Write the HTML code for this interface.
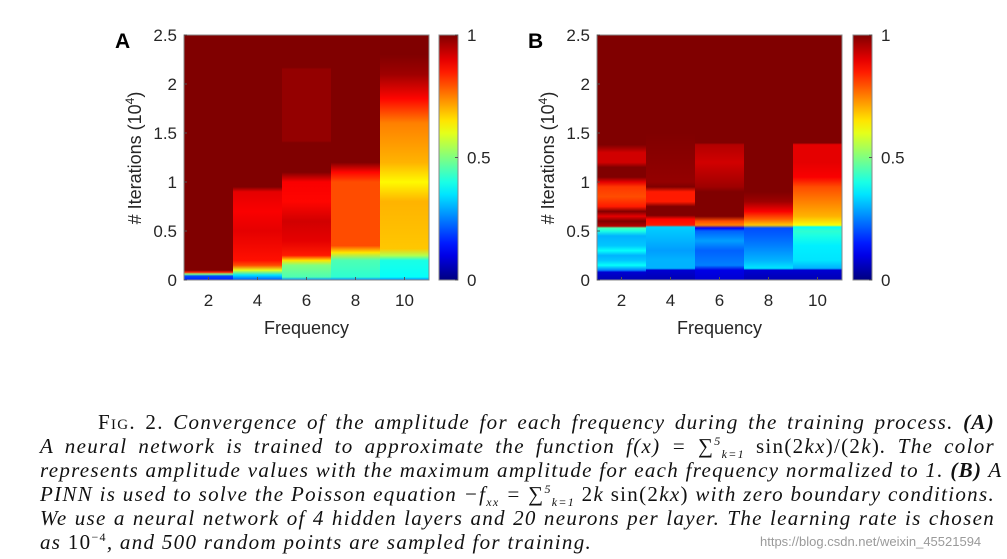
<!DOCTYPE html>
<html><head><meta charset="utf-8">
<style>
body{margin:0;width:1007px;height:559px;background:#fff;overflow:hidden;position:relative}
svg{position:absolute;left:0;top:0}
.cap{position:absolute;left:40px;width:955px;height:24px;font-family:"Liberation Serif",serif;font-style:italic;font-size:21px;letter-spacing:1.3px;line-height:24px;text-align:justify;text-align-last:justify;white-space:nowrap;color:#111;box-sizing:border-box}
.cap.last{text-align-last:left}
.sc{font-style:normal;font-variant:small-caps}
.rm{font-style:normal}
.up{position:relative;top:-8px;font-size:12px;line-height:0;vertical-align:baseline}
.dn{position:relative;top:5px;font-size:12px;line-height:0;vertical-align:baseline}
.wm{position:absolute;left:760px;top:534px;font-family:"Liberation Sans",sans-serif;font-size:13px;color:#9a9a9a}
</style></head>
<body>
<svg id="fig" width="1007" height="400"></svg>
<div class="cap" style="top:410px;padding-left:58px"><span class="sc">Fig. 2.</span> Convergence of the amplitude for each frequency during the training process. <b>(A)</b></div>
<div class="cap" style="top:434px">A neural network is trained to approximate the function f(x) = <span class="rm">∑</span><span class="up">5</span><span class="dn">k=1</span> <span class="rm">sin(2</span>kx<span class="rm">)/(2</span>k<span class="rm">)</span>. The color</div>
<div class="cap" style="top:458px">represents amplitude values with the maximum amplitude for each frequency normalized to 1. <b>(B)</b> A</div>
<div class="cap" style="top:482px">PINN is used to solve the Poisson equation −f<span class="dn">xx</span> = <span class="rm">∑</span><span class="up">5</span><span class="dn">k=1</span> <span class="rm">2</span>k <span class="rm">sin(2</span>kx<span class="rm">)</span> with zero boundary conditions.</div>
<div class="cap" style="top:506px">We use a neural network of 4 hidden layers and 20 neurons per layer. The learning rate is chosen</div>
<div class="cap last" style="top:530px">as <span class="rm">10<span class="up">−4</span></span>, and 500 random points are sampled for training.</div>
<div class="wm">https://blog.csdn.net/weixin_45521594</div>
<script>
const frequencies=[2,4,6,8,10];
const yTicks=[0,0.5,1,1.5,2,2.5];
const yTickLabels=["0","0.5","1","1.5","2","2.5"];
const cbTicks=[0,0.5,1];
// Panel A: iteration (1e4) points and amplitude values per frequency
const itA2=[0,0.04,0.06,0.08,0.1,2.5];
const vA2=[0.15,0.2,0.5,0.85,1,1];
const itA4=[0,0.05,0.1,0.15,0.2,0.5,0.7,0.9,0.95,2.5];
const vA4=[0.2,0.35,0.6,0.8,0.86,0.9,0.88,0.9,1,1];
const itA6=[0,0.03,0.15,0.2,0.25,0.4,0.6,0.8,1.0,1.1,1.4,1.42,2.15,2.17,2.5];
const vA6=[0.25,0.45,0.5,0.65,0.85,0.9,0.92,0.87,0.88,1,1,0.98,0.98,1,1];
const itA8=[0,0.03,0.2,0.28,0.35,1.0,1.1,1.2,2.5];
const vA8=[0.25,0.42,0.45,0.65,0.8,0.8,0.87,1,1];
const itA10=[0,0.03,0.2,0.25,0.32,0.8,1.0,1.2,1.6,1.85,2.1,2.3,2.5];
const vA10=[0.25,0.38,0.4,0.55,0.68,0.7,0.63,0.7,0.75,0.87,0.97,1,1];
// Panel B
const itB2=[0,0.08,0.1,0.15,0.2,0.25,0.3,0.35,0.45,0.5,0.53,0.55,0.6,0.65,0.7,0.75,0.85,0.95,1.0,1.05,1.15,1.2,1.3,1.38,2.5];
const vB2=[0.05,0.08,0.25,0.38,0.32,0.3,0.38,0.32,0.3,0.4,0.45,0.95,1,0.9,1,0.85,0.8,0.82,0.9,1,1,0.92,0.92,1,1];
const itB4=[0,0.1,0.12,0.2,0.3,0.4,0.5,0.54,0.56,0.62,0.66,0.75,0.8,0.9,0.95,1.0,1.5,2.5];
const vB4=[0.05,0.08,0.3,0.3,0.28,0.3,0.32,0.33,0.85,0.87,1,1,0.85,0.85,1,0.98,1,1];
const itB6=[0,0.1,0.15,0.3,0.4,0.5,0.53,0.56,0.6,0.65,0.9,0.95,1.05,1.2,1.38,1.4,2.5];
const vB6=[0.08,0.1,0.25,0.22,0.28,0.22,0.12,0.75,0.8,1,1,0.97,0.95,0.92,0.95,1,1];
const itB8=[0,0.1,0.12,0.2,0.35,0.45,0.53,0.56,0.62,0.7,0.8,0.9,2.5];
const vB8=[0.05,0.08,0.35,0.3,0.25,0.22,0.2,0.68,0.78,0.88,0.97,1,1];
const itB10=[0,0.1,0.12,0.2,0.35,0.45,0.5,0.54,0.56,0.65,0.8,0.95,1.05,1.2,1.38,1.4,2.5];
const vB10=[0.05,0.08,0.3,0.35,0.36,0.4,0.42,0.38,0.62,0.7,0.75,0.8,0.88,0.9,0.9,1,1];

const panelA=[[itA2,vA2],[itA4,vA4],[itA6,vA6],[itA8,vA8],[itA10,vA10]];
const panelB=[[itB2,vB2],[itB4,vB4],[itB6,vB6],[itB8,vB8],[itB10,vB10]];

const NS="http://www.w3.org/2000/svg";
const svg=document.getElementById('fig');
const defs=document.createElementNS(NS,'defs');svg.appendChild(defs);
function jet(v){v=Math.max(0,Math.min(1,v));
 const c=x=>Math.round(255*Math.max(0,Math.min(1,x)));
 return `rgb(${c(1.5-Math.abs(4*v-3))},${c(1.5-Math.abs(4*v-2))},${c(1.5-Math.abs(4*v-1))})`;}
function mk(tag,attrs,parent){const e=document.createElementNS(NS,tag);for(const k in attrs)e.setAttribute(k,attrs[k]);(parent||svg).appendChild(e);return e;}
const TOP=35,BOT=280,YMAX=2.5,XMIN=1,XMAX=11;
const yScale=v=>BOT-(v/YMAX)*(BOT-TOP);
let gid=0;
function panel(px,label,data,cbx){
 const W=245;const xScale=f=>px+(f-XMIN)/(XMAX-XMIN)*W;
 data.forEach((d,i)=>{
  const [its,vals]=d;const id='g'+(gid++);
  const g=mk('linearGradient',{id:id,gradientUnits:'userSpaceOnUse',x1:0,x2:0,y1:yScale(0),y2:yScale(YMAX)},defs);
  its.forEach((t,j)=>{mk('stop',{offset:(t/YMAX),'stop-color':jet(vals[j])},g);});
  const f=frequencies[i];
  const r=mk('rect',{x:xScale(f-1),y:TOP,width:xScale(f+1)-xScale(f-1)+0.5,height:BOT-TOP,fill:`url(#${id})`});
  
  
 });
 const fr=mk('rect',{x:px,y:TOP,width:W,height:BOT-TOP,fill:'none',stroke:'#888','stroke-width':1});
 
 yTicks.forEach((t,i)=>{
  mk('line',{x1:px,x2:px+3,y1:yScale(t),y2:yScale(t),stroke:'#555'});
  const tx=mk('text',{x:px-7,y:yScale(t)+6,'text-anchor':'end','font-size':17,'font-family':'Liberation Sans, sans-serif',fill:'#262626'});
  tx.textContent=yTickLabels[i];
  
 });
 frequencies.forEach(f=>{
  mk('line',{x1:xScale(f),x2:xScale(f),y1:BOT,y2:BOT-3,stroke:'#555'});
  const tx=mk('text',{x:xScale(f),y:306,'text-anchor':'middle','font-size':17,'font-family':'Liberation Sans, sans-serif',fill:'#262626'});
  tx.textContent=f;
  
 });
 const xt=mk('text',{x:px+W/2,y:334,'text-anchor':'middle','font-size':18,'font-family':'Liberation Sans, sans-serif',fill:'#262626'});
 xt.textContent='Frequency';
 const yx=px-43,yy=158;
 const yt=mk('text',{x:yx,y:yy,'text-anchor':'middle','font-size':18,'font-family':'Liberation Sans, sans-serif',fill:'#262626',transform:`rotate(-90 ${yx} ${yy})`});
 yt.innerHTML='# Iterations (10<tspan dy="-7" font-size="12">4</tspan><tspan dy="7">)</tspan>';
 
 const pl=mk('text',{x:px-69,y:48,'font-size':21,'font-weight':'bold','font-family':'Liberation Sans, sans-serif',fill:'#000'});
 pl.textContent=label;
 const cid='cb'+label;
 const cg=mk('linearGradient',{id:cid,x1:0,x2:0,y1:1,y2:0},defs);
 for(let k=0;k<=20;k++)mk('stop',{offset:k/20,'stop-color':jet(k/20)},cg);
 const cb=mk('rect',{x:cbx,y:TOP,width:19,height:BOT-TOP,fill:`url(#${cid})`,stroke:'#888'});
 
 cbTicks.forEach(t=>{
  const yy2=BOT-t*(BOT-TOP);
  mk('line',{x1:cbx+16,x2:cbx+19,y1:yy2,y2:yy2,stroke:'#555'});
  const tx=mk('text',{x:cbx+28,y:yy2+6,'font-size':17,'font-family':'Liberation Sans, sans-serif',fill:'#262626'});
  tx.textContent=String(t);
  
 });
}
panel(184,'A',panelA,439);
panel(597,'B',panelB,853);
</script>
</body></html>
